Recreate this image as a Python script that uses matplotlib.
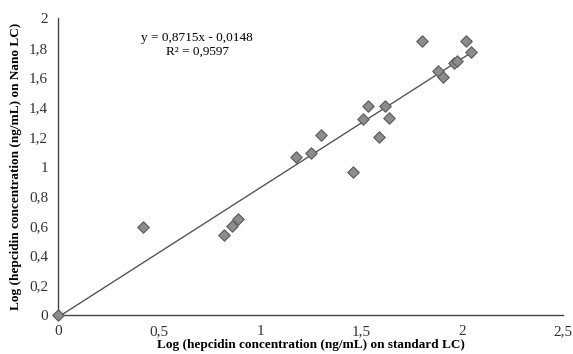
import matplotlib
matplotlib.use("Agg")
import matplotlib.pyplot as plt
from matplotlib.ticker import FuncFormatter
import numpy as np

# log hepcidin: standard LC (x) vs Nano LC (y)
std_lc = [0.0, 0.42, 0.82, 0.86, 0.89, 1.18, 1.25, 1.30, 1.46, 1.51, 1.535,
          1.59, 1.62, 1.64, 1.80, 1.88, 1.905, 1.96, 1.975, 2.02, 2.045]
nano_lc = [0.0, 0.59, 0.54, 0.60, 0.645, 1.065, 1.09, 1.21, 0.96, 1.32, 1.41,
           1.20, 1.41, 1.33, 1.845, 1.645, 1.60, 1.70, 1.71, 1.845, 1.77]
slope, intercept = 0.8715, -0.0148
eq_text = "y = 0,8715x - 0,0148\nR² = 0,9597"

plt.rcParams["font.family"] = ["Liberation Serif", "DejaVu Serif"]

fig = plt.figure(figsize=(5.73, 3.54), dpi=100)
ax = fig.add_axes([0.101, 0.110, 0.882, 0.839])

xs = np.array([0.0, max(std_lc)])
ax.plot(xs, slope * xs + intercept, color="#555555", lw=1.0, zorder=2)
ax.scatter(std_lc, nano_lc, marker="D", s=34, color="#8c8c8c",
           edgecolor="#5a5a5a", linewidth=0.8, zorder=3, clip_on=False)

ax.set_xlim(0, 2.5)
ax.set_ylim(0, 2)
ax.set_xticks(np.arange(0, 2.51, 0.5))
ax.set_yticks(np.arange(0, 2.01, 0.2))
fmt = FuncFormatter(lambda v, p: ("%g" % round(v, 2)).replace(".", ","))
ax.xaxis.set_major_formatter(fmt)
ax.yaxis.set_major_formatter(fmt)
ax.tick_params(length=0, labelsize=11, colors="#333333", pad=7)

for s in ("top", "right"):
    ax.spines[s].set_visible(False)
for s in ("left", "bottom"):
    ax.spines[s].set_color("#444444")
    ax.spines[s].set_linewidth(1.0)

ax.set_xlabel("Log (hepcidin concentration (ng/mL) on standard LC)",
              fontsize=9.5, fontweight="bold", labelpad=1)
ax.set_ylabel("Log (hepcidin concentration (ng/mL) on Nano LC)",
              fontsize=9.5, fontweight="bold", labelpad=5)

ax.text(0.69, 1.82, eq_text, ha="center", va="center", fontsize=9.5,
        linespacing=1.15)

fig.savefig("out.png", dpi=100)
